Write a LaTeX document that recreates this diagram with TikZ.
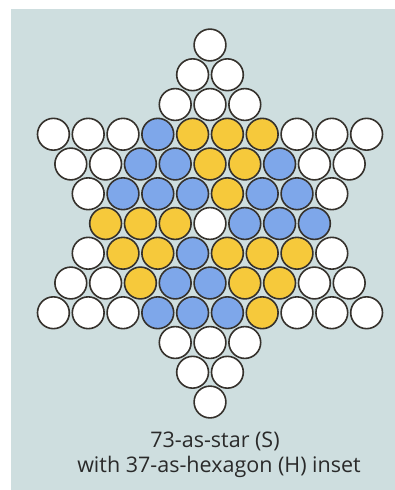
\documentclass[tikz,border=0pt]{standalone}
\usepackage{fontspec}
\setmainfont{Open Sans}
\definecolor{panel}{HTML}{CEDEDF}
\definecolor{peb}{HTML}{7EA7EA}
\definecolor{pey}{HTML}{F6C93B}
\definecolor{rim}{HTML}{35312C}
\definecolor{txt}{HTML}{2A2A2A}
\newcommand\ballrow[3]{%
  \foreach \c [count=\i from 0] in {#3}{%
    \node[\c] (b-#1-\i) at ({210+(\i-(#2-1)/2)*34.8},{45+#1*29.75}) {};}}
\begin{document}
\begin{tikzpicture}[x=1pt,y=-1pt,
  ball/.style={circle,draw=rim,line width=1.6pt,minimum size=31.8pt,inner sep=0pt},
  W/.style={ball,fill=white},
  B/.style={ball,fill=peb},
  Y/.style={ball,fill=pey},
  caption/.style={font=\fontsize{21.5}{25}\selectfont,text=txt,inner sep=0pt}]
\useasboundingbox (0,0) rectangle (395,490);
\fill[panel] (11,9) rectangle (395,490);
\ballrow{0}{1}{W}
\ballrow{1}{2}{W,W}
\ballrow{2}{3}{W,W,W}
\ballrow{3}{10}{W,W,W,B,Y,Y,Y,W,W,W}
\ballrow{4}{9}{W,W,B,B,Y,Y,B,W,W}
\ballrow{5}{8}{W,B,B,B,Y,B,B,W}
\ballrow{6}{7}{Y,Y,Y,W,B,B,B}
\ballrow{7}{8}{W,Y,Y,B,Y,Y,Y,W}
\ballrow{8}{9}{W,W,Y,B,B,Y,Y,W,W}
\ballrow{9}{10}{W,W,W,B,B,B,Y,W,W,W}
\ballrow{10}{3}{W,W,W}
\ballrow{11}{2}{W,W}
\ballrow{12}{1}{W}
\node[caption] (t1) at (215,441) {73-as-star (S)};
\node[caption] (t2) at (219,467) {with 37-as-hexagon (H) inset};
\end{tikzpicture}
\end{document}
